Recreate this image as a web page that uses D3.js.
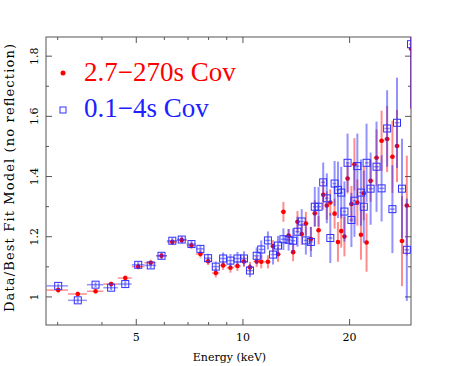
<!DOCTYPE html>
<html>
<head>
<meta charset="utf-8">
<script src="https://cdn.jsdelivr.net/npm/d3@7"></script>
<style>
  body { margin: 0; background: #fff; }
  svg { display: block; font-family: "DejaVu Serif", serif; }
</style>
</head>
<body>
<main></main>
<script>
// bin centres and edges (keV)
const energy = [3.02, 3.43, 3.85, 4.26, 4.67, 5.08, 5.51, 5.91, 6.34, 6.74,
  7.18, 7.61, 8.0, 8.41, 8.82, 9.25, 9.68, 10.1, 10.5, 10.97,
  11.3, 11.8, 12.2, 12.6, 13.05, 13.5, 13.9, 14.3, 14.7, 15.1,
  15.6, 16.0, 16.4, 16.9, 17.3, 17.7, 18.2, 18.6, 19.0, 19.4,
  19.8, 20.3, 20.7, 21.1, 21.6, 22.0, 22.4, 23.0, 23.9, 24.7,
  25.6, 26.5, 27.3, 28.2, 29.1, 29.9];
const binEdges = [2.80, 3.22, 3.64, 4.05, 4.45, 4.87, 5.29, 5.71, 6.12, 6.54,
  6.96, 7.39, 7.80, 8.20, 8.61, 9.03, 9.46, 9.89, 10.3, 10.73,
  11.13, 11.55, 12.0, 12.4, 12.82, 13.27, 13.7, 14.1, 14.5, 14.9,
  15.35, 15.8, 16.2, 16.65, 17.1, 17.5, 17.95, 18.4, 18.8, 19.2,
  19.6, 20.05, 20.5, 20.9, 21.35, 21.8, 22.2, 22.7, 23.45, 24.3,
  25.15, 26.05, 26.9, 27.75, 28.65, 29.5, 30.3];

// 2.7-270s Cov (red)
const longCov = [1.021, 1.008, 1.017, 1.041, 1.061, 1.099, 1.112, 1.135, 1.181, 1.187,
  1.169, 1.141, 1.117, 1.078, 1.103, 1.095, 1.101, 1.116, 1.097, 1.116,
  1.115, 1.115, 1.167, 1.140, 1.281, 1.202, 1.147, 1.248, 1.207, 1.242,
  1.191, 1.276, 1.220, 1.338, 1.302, 1.312, 1.275, 1.181, 1.217, 1.199,
  1.392, 1.307, 1.439, 1.312, 1.205, 1.343, 1.179, 1.384, 1.461, 1.517,
  1.523, 1.464, 1.500, 1.184, 1.302, 1.823];
const longErr = [0.008, 0.008, 0.007, 0.008, 0.009, 0.009, 0.01, 0.01, 0.01, 0.01,
  0.011, 0.012, 0.013, 0.015, 0.015, 0.016, 0.016, 0.018, 0.018, 0.018,
  0.022, 0.022, 0.02, 0.025, 0.033, 0.022, 0.03, 0.036, 0.036, 0.039,
  0.04, 0.044, 0.047, 0.05, 0.047, 0.044, 0.05, 0.066, 0.055, 0.066,
  0.05, 0.06, 0.087, 0.077, 0.083, 0.09, 0.097, 0.07, 0.094, 0.1,
  0.11, 0.12, 0.12, 0.15, 0.166, 0.2];

// 0.1-4s Cov (blue)
const shortCov = [1.035, 0.987, 1.039, 1.029, 1.041, 1.105, 1.103, 1.135, 1.185, 1.189,
  1.174, 1.158, 1.127, 1.099, 1.126, 1.119, 1.126, 1.126, 1.086, 1.135,
  1.156, 1.186, 1.139, 1.169, 1.190, 1.188, 1.185, 1.215, 1.249, 1.186,
  1.181, 1.298, 1.298, 1.379, 1.326, 1.194, 1.375, 1.354, 1.345, 1.282,
  1.444, 1.254, 1.318, 1.433, 1.345, 1.298, 1.444, 1.358, 1.431, 1.359,
  1.558, 1.290, 1.577, 1.358, 1.155, 1.838];
const shortErr = [0.008, 0.009, 0.008, 0.008, 0.009, 0.01, 0.01, 0.01, 0.01, 0.012,
  0.012, 0.013, 0.015, 0.017, 0.02, 0.022, 0.022, 0.024, 0.022, 0.028,
  0.03, 0.03, 0.033, 0.032, 0.036, 0.036, 0.041, 0.05, 0.041, 0.047,
  0.05, 0.066, 0.066, 0.066, 0.083, 0.083, 0.075, 0.094, 0.086, 0.1,
  0.097, 0.09, 0.12, 0.108, 0.11, 0.12, 0.13, 0.12, 0.15, 0.11,
  0.127, 0.146, 0.15, 0.166, 0.17, 0.213];

const xMajor = [5, 10, 20];
const xMinor = [3, 4, 6, 7, 8, 9];
const yMajor = [1, 1.2, 1.4, 1.6, 1.8];
const yMinor = [1.1, 1.3, 1.5, 1.7];

const margin = {top: 37, right: 47, bottom: 41, left: 46}
    , width = 458 - margin.left - margin.right
    , height = 366 - margin.top - margin.bottom;

const x = d3.scaleLog()
    .domain([2.79, 29.9])
    .range([0, width]);

const y = d3.scaleLinear()
    .domain([0.905, 1.862])
    .range([height, 0]);

const svg = d3.select("main").append("svg")
    .attr("width", width + margin.left + margin.right)
    .attr("height", height + margin.top + margin.bottom)
  .append("g")
    .attr("transform", `translate(${margin.left}, ${margin.top})`);

svg.append("clipPath")
    .attr("id", "plot-clip")
  .append("rect")
    .attr("width", width)
    .attr("height", height);

// axes: ticks point inwards on all four sides
const axisColor = "#555";
function styleAxis(g) {
  g.select(".domain").remove();
  g.selectAll(".tick line").attr("stroke", axisColor);
  g.attr("font-family", null).attr("font-size", 11);
}

svg.append("g")
    .attr("transform", `translate(0, ${height})`)
    .call(d3.axisBottom(x).tickValues(xMajor).tickSize(-6).tickPadding(8).tickFormat(d3.format("d")))
    .call(styleAxis)
    .selectAll("text").attr("fill", "#000");

svg.append("g")
    .attr("transform", `translate(0, ${height})`)
    .call(d3.axisBottom(x).tickValues(xMinor).tickSize(-3).tickFormat(""))
    .call(styleAxis);

svg.append("g")
    .call(d3.axisTop(x).tickValues(xMajor).tickSize(-6).tickFormat(""))
    .call(styleAxis);

svg.append("g")
    .call(d3.axisTop(x).tickValues(xMinor).tickSize(-3).tickFormat(""))
    .call(styleAxis);

svg.append("g")
    .call(d3.axisLeft(y).tickValues(yMajor).tickSize(-6)
      .tickFormat(d => d === 1 ? "1" : d3.format(".1f")(d)))
    .call(styleAxis)
  .selectAll("text")
    .attr("fill", "#000")
    .attr("transform", "rotate(-90)")
    .attr("x", 0)
    .attr("y", -8)
    .attr("dy", 0)
    .style("text-anchor", "middle");

svg.append("g")
    .call(d3.axisLeft(y).tickValues(yMinor).tickSize(-3).tickFormat(""))
    .call(styleAxis);

svg.append("g")
    .attr("transform", `translate(${width}, 0)`)
    .call(d3.axisRight(y).tickValues(yMajor).tickSize(-6).tickFormat(""))
    .call(styleAxis);

svg.append("g")
    .attr("transform", `translate(${width}, 0)`)
    .call(d3.axisRight(y).tickValues(yMinor).tickSize(-3).tickFormat(""))
    .call(styleAxis);

// frame
svg.append("rect")
    .attr("width", width)
    .attr("height", height)
    .attr("fill", "none")
    .attr("stroke", axisColor)
    .attr("stroke-width", 1);

// axis titles
svg.append("text")
    .attr("x", width / 2 + 1)
    .attr("y", height + 36)
    .attr("text-anchor", "middle")
    .attr("font-size", 11)
    .text("Energy (keV)");

svg.append("text")
    .attr("transform", `translate(${-32}, ${height / 2 - 3}) rotate(-90)`)
    .attr("text-anchor", "middle")
    .attr("font-size", 13)
    .attr("textLength", 268)
    .attr("lengthAdjust", "spacing")
    .text("Data/Best Fit Model (no reflection)");

// data
const plot = svg.append("g").attr("clip-path", "url(#plot-clip)");

function series(values, errs, barColor, cls) {
  const data = energy.map((e, i) => ({e, v: values[i], err: errs[i], lo: binEdges[i], hi: binEdges[i + 1]}));
  const g = plot.append("g").attr("class", cls);

  g.selectAll(".xerr")
      .data(data)
    .enter().append("line")
      .attr("x1", d => x(d.lo))
      .attr("x2", d => x(d.hi))
      .attr("y1", d => y(d.v))
      .attr("y2", d => y(d.v))
      .attr("stroke", barColor)
      .attr("stroke-width", 1.5);

  g.selectAll(".yerr")
      .data(data)
    .enter().append("line")
      .attr("x1", d => x(d.e))
      .attr("x2", d => x(d.e))
      .attr("y1", d => y(d.v - d.err))
      .attr("y2", d => y(d.v + d.err))
      .attr("stroke", barColor)
      .attr("stroke-width", 2);

  return g.selectAll(".pt").data(data).enter();
}

series(longCov, longErr, "rgba(255,0,0,0.45)", "long")
  .append("circle")
    .attr("cx", d => x(d.e))
    .attr("cy", d => y(d.v))
    .attr("r", 2.3)
    .attr("fill", "#ff0000");

series(shortCov, shortErr, "rgba(40,40,255,0.5)", "short")
  .append("rect")
    .attr("x", d => x(d.e) - 3.5)
    .attr("y", d => y(d.v) - 3.5)
    .attr("width", 7)
    .attr("height", 7)
    .attr("fill", "none")
    .attr("stroke", "#3030ff")
    .attr("stroke-width", 1);

// legend
const legend = svg.append("g")
    .attr("font-family", "'Liberation Serif', serif")
    .attr("font-size", 27);

legend.append("circle")
    .attr("cx", 17)
    .attr("cy", 36)
    .attr("r", 2.5)
    .attr("fill", "#ff0000");

legend.append("text")
    .attr("x", 38)
    .attr("y", 44)
    .attr("fill", "#ff0000")
    .text("2.7\u2212270s Cov");

legend.append("rect")
    .attr("x", 14)
    .attr("y", 70)
    .attr("width", 6)
    .attr("height", 6)
    .attr("fill", "none")
    .attr("stroke", "#3030ff");

legend.append("text")
    .attr("x", 38)
    .attr("y", 80)
    .attr("fill", "#2020ff")
    .text("0.1\u22124s Cov");
</script>
</body>
</html>
